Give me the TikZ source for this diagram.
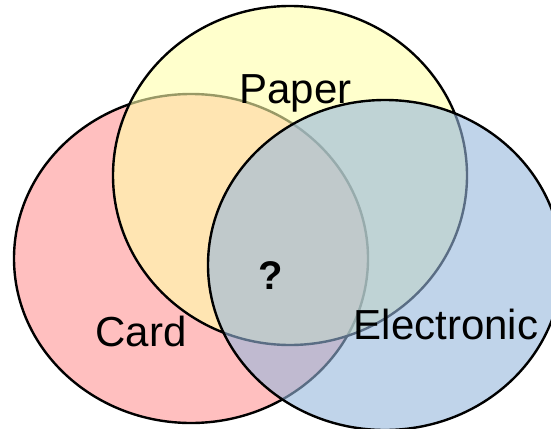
\documentclass[tikz,border=0pt]{standalone}
\usepackage{fontspec}
\setmainfont{Liberation Sans}
\usetikzlibrary{shapes.geometric}
\definecolor{cardfill}{RGB}{255,191,191}
\definecolor{paperfill}{RGB}{255,255,170}
\definecolor{elecfill}{RGB}{150,183,220}
\begin{document}
\begin{tikzpicture}[x=1pt,y=-1pt,
  setshape/.style={ellipse, draw=black, line width=2.4pt, inner sep=0pt, outer sep=0pt},
  setlabel/.style={font=\fontsize{42}{50}\selectfont, inner sep=0pt, anchor=base, text=black}]
\useasboundingbox (0,0) rectangle (551,428);
\clip (0,0) rectangle (551,428);
% the three sets, later ones washed over earlier ones
\node[setshape, fill=cardfill, minimum width=354pt, minimum height=329pt] (card) at (191,258.5) {};
\node[setshape, fill=paperfill, fill opacity=0.6, minimum width=354pt, minimum height=339pt] (paper) at (290,175.5) {};
\node[setshape, fill=elecfill, fill opacity=0.6, minimum width=354pt, minimum height=330pt] (elec) at (385,265) {};
% labels
\node[setlabel] (paperlbl) at (295.5,103) {Paper};
\node[setlabel] (cardlbl) at (141,346) {Card};
\node[setlabel] (eleclbl) at (446,339) {Electronic};
\node[setlabel, font=\fontsize{40}{48}\selectfont\bfseries] (common) at (271,289) {?};
\end{tikzpicture}
\end{document}
